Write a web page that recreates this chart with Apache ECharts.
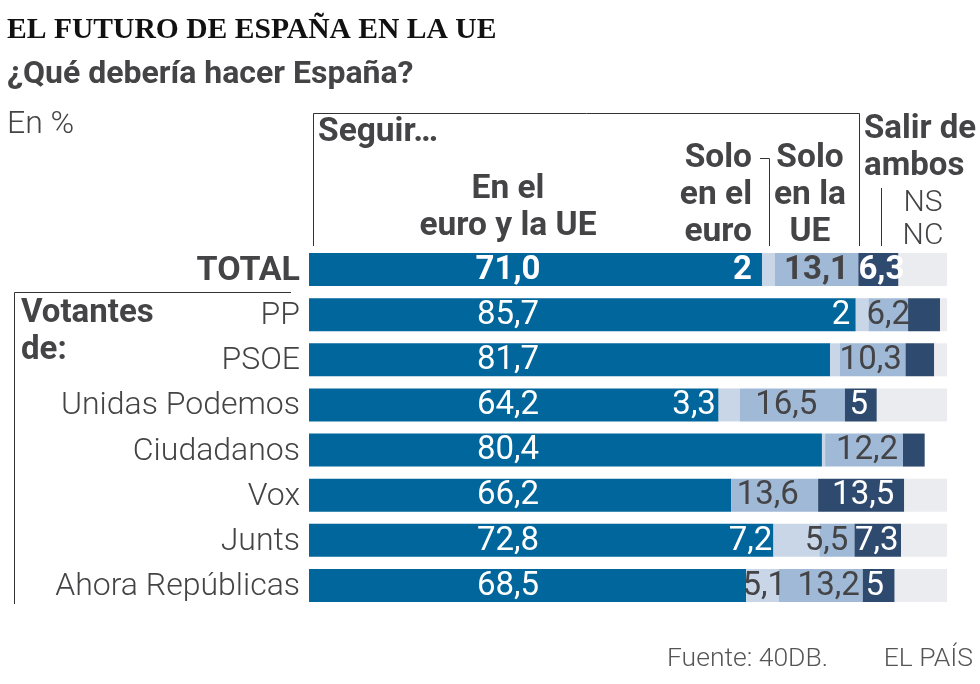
<!DOCTYPE html>
<html><head><meta charset="utf-8">
<style>html,body{margin:0;padding:0;background:#fff}#c{width:980px;height:684px}</style>
<script src="https://cdn.jsdelivr.net/npm/echarts@6/dist/echarts.min.js"></script>
</head><body><div id="c"></div>
<script>
var categories = ['TOTAL','PP','PSOE','Unidas Podemos','Ciudadanos','Vox','Junts','Ahora Repúblicas'];
var euroYUE  = [71.0,85.7,81.7,64.2,80.4,66.2,72.8,68.5];
var soloEuro = [2,2,1.5,3.3,0.5,0,7.2,5.1];
var soloUE   = [13.1,6.2,10.3,16.5,12.2,13.6,5.5,13.2];
var salir    = [6.3,5.0,4.5,5,3.4,13.5,7.3,5];
var nsnc     = [7.6,1.1,2.0,11,0,6.7,7.2,8.2];
var labelsEuro  = ['71,0','85,7','81,7','64,2','80,4','66,2','72,8','68,5'];
var labelsSoloE = ['2','2','','3,3','','','7,2','5,1'];
var labelsSoloU = ['13,1','6,2','10,3','16,5','12,2','13,6','5,5','13,2'];
var labelsSalir = ['6,3','','','5','','13,5','7,3','5'];

var dxSoloE = [-26,-21,0,-35,0,0,-46,2];
var dxSoloU = [0,0,-2,-6,3,-7,-10.5,8];
var dxSalir = [3,0,0,-2,0,2,-1,-4];
var DARK='#444446', FONT='Roboto';

function seg(name,vals,color,labels,dx,txtColor,fixedX){
  return {name:name,type:'bar',stack:'a',barWidth:33,silent:true,itemStyle:{color:color},
    data:vals.map(function(v,i){
      var bold=(i===0);
      var lab={show:!!(labels&&labels[i]),formatter:labels?labels[i]:'',color:(typeof txtColor==='function')?txtColor(i):txtColor,
        fontFamily:FONT,fontSize:33,fontWeight:bold?'bold':400};
      if(fixedX){lab.position=[fixedX,'50%'];lab.align='center';lab.verticalAlign='middle';lab.offset=[0,1];}
      else{lab.position='inside';lab.offset=[dx?dx[i]:0,1];}
      return {value:v,label:lab};
    })};
}
function txt(x,y,t,size,weight,align,fam,color){
  return {type:'text',x:x,y:y,silent:true,z:20,style:{text:t,fontSize:size,fontWeight:weight,fontFamily:fam||FONT,fill:color||DARK,align:align||'left',verticalAlign:'middle'}};
}
function ln(pts,color,w){
  return {type:'polyline',silent:true,z:15,shape:{points:pts},style:{stroke:color||'#333',lineWidth:w||1,fill:null}};
}
var chart=echarts.init(document.getElementById('c'),null,{renderer:'canvas'});
chart.setOption({
  animation:false,
  grid:{left:309,width:638,top:247,height:361,containLabel:false},
  xAxis:{type:'value',min:0,max:100,show:false},
  yAxis:{type:'category',inverse:true,data:categories,axisLine:{show:false},axisTick:{show:false},splitLine:{show:false},
    axisLabel:{margin:9,fontFamily:FONT,fontSize:32,fontWeight:300,color:DARK,align:'right',padding:[3,0,0,0],
      formatter:function(v){return v==='TOTAL'?'{b|TOTAL}':v;},rich:{b:{fontFamily:FONT,fontSize:34,fontWeight:'bold',color:DARK}}}},
  series:[
    seg('En el euro y la UE',euroYUE,'#00669b',labelsEuro,null,'#fff',199),
    seg('Solo en el euro',soloEuro,'#c9d6e8',labelsSoloE,dxSoloE,function(i){return i===7?DARK:(i===6||i<4?'#fff':DARK);}),
    seg('Solo en la UE',soloUE,'#a0b9d7',labelsSoloU,dxSoloU,DARK),
    seg('Salir de ambos',salir,'#2e4a6e',labelsSalir,dxSalir,'#fff'),
    seg('NS/NC',nsnc,'#ebecef')
  ],
  graphic:[
    txt(7,30,'EL FUTURO DE ESPAÑA EN LA UE',29.6,'bold','left','Liberation Serif','#111'),
    txt(7,75,'¿Qué debería hacer España?',32,'bold'),
    txt(7,125,'En %',32,300),
    txt(318,133,'Seguir…',33.5,'bold'),
    txt(508,190,'En el',33.5,'bold','center'),
    txt(508,227,'euro y la UE',33.5,'bold','center'),
    txt(752,159,'Solo',33.5,'bold','right'),
    txt(752,196,'en el',33.5,'bold','right'),
    txt(752,233,'euro',33.5,'bold','right'),
    txt(810,159,'Solo',33.5,'bold','center'),
    txt(810,196,'en la',33.5,'bold','center'),
    txt(810,233,'UE',33.5,'bold','center'),
    txt(864,130,'Salir de',33,'bold'),
    txt(864,167,'ambos',33,'bold'),
    txt(923,203,'NS',30,300,'center'),
    txt(923,236,'NC',30,300,'center'),
    txt(21,314,'Votantes',33,'bold'),
    txt(21,351,'de:',33,'bold'),
    txt(667,659,'Fuente: 40DB.',26.5,300,'left',null,'#555'),
    txt(973,659,'EL PAÍS',26.5,300,'right',null,'#555'),
    ln([[313.5,246],[313.5,113.5],[859.5,113.5],[859.5,246]]),
    ln([[760,158.5],[769.5,158.5],[769.5,246]]),
    ln([[881.5,188],[881.5,246]]),
    ln([[14.5,604],[14.5,292.5],[291,292.5]])
  ]
});
</script></body></html>
